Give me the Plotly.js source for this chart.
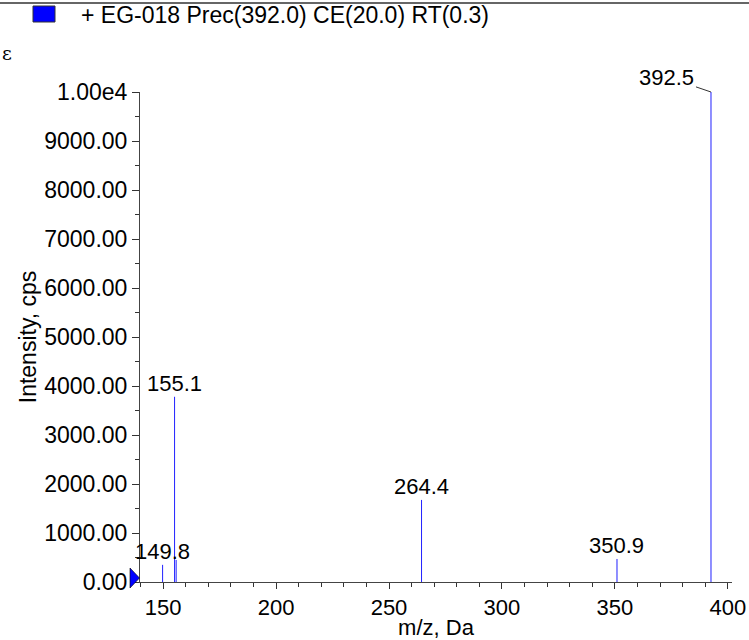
<!DOCTYPE html>
<html>
<head>
<meta charset="utf-8">
<script src="https://cdn.plot.ly/plotly-3.0.1.min.js"></script>
<style>html,body{margin:0;padding:0;background:#fff;}#chart{width:749px;height:640px;}</style>
</head>
<body>
<div id="chart"></div>
<script>
// ---- data ----
const peakMz = [149.8, 155.1, 155.8, 264.4, 350.9, 392.5];
const peakIntensity = [350, 3780, 450, 1675, 470, 10000];
const labelMz = [149.8, 155.1, 264.4, 350.9];
const labelIntensity = [350, 3780, 1675, 470];
const labelText = ["149.8", "155.1", "264.4", "350.9"];
const baseMz = [392.5];
const baseIntensity = [10000];
const baseText = ["392.5"];
const yTickVals = [0, 1000, 2000, 3000, 4000, 5000, 6000, 7000, 8000, 9000, 10000];
const yTickText = ["0.00", "1000.00", "2000.00", "3000.00", "4000.00", "5000.00", "6000.00", "7000.00", "8000.00", "9000.00", "1.00e4"];
const legendText = "+ EG-018 Prec(392.0) CE(20.0) RT(0.3)";
const panelText = "ε";

// ---- layout geometry ----
const W = 749, H = 640;
const M = {l: 140, r: 17, t: 92, b: 58};
const PW = W - M.l - M.r, PH = H - M.t - M.b;
const xRange = [139.8, 401.8];
const yRange = [0, 10000];
const px2x = p => (p - M.l) / PW;            // pixel -> paper x
const py2y = p => (H - M.b - p) / PH;        // pixel -> paper y
const FONT = "Liberation Sans, Arial, sans-serif";

// stick spectrum built from arrays
const sx = [], sy = [];
peakMz.forEach((m, i) => { sx.push(m, m, null); sy.push(0, peakIntensity[i], null); });

const traces = [
  {x: sx, y: sy, type: 'scatter', mode: 'lines', line: {color: '#2020ff', width: 1}, hoverinfo: 'skip', showlegend: false}
];

const annotations = labelMz.map((m, i) => ({
  x: m, y: labelIntensity[i], xref: 'x', yref: 'y', text: labelText[i], showarrow: false,
  yanchor: 'middle', xanchor: 'center', yshift: 13, font: {family: FONT, size: 22, color: '#000'}
}));
baseMz.forEach((m, i) => annotations.push({
  x: m, y: baseIntensity[i], xref: 'x', yref: 'y', text: baseText[i], showarrow: true,
  ax: -44, ay: -15, arrowhead: 0, arrowwidth: 1, arrowcolor: '#333', standoff: 0,
  font: {family: FONT, size: 22, color: '#000'}
}));
annotations.push({
  x: px2x(79), y: py2y(15), xref: 'paper', yref: 'paper', xanchor: 'left', yanchor: 'middle',
  text: legendText, showarrow: false, font: {family: FONT, size: 23, color: '#000'}
});
annotations.push({
  x: px2x(0), y: py2y(53), xref: 'paper', yref: 'paper', xanchor: 'left', yanchor: 'middle',
  text: panelText, showarrow: false, font: {family: 'DejaVu Serif, serif', size: 19, color: '#000'}
});

// precursor marker (triangle at the left end of the baseline), in paper coords
const tri = [[130, 568], [139.5, 578], [130, 588]].map(p => [px2x(p[0]), py2y(p[1])]);
const triPath = 'M ' + tri.map(p => p[0] + ' ' + p[1]).join(' L ') + ' Z';

const shapes = [
  {type: 'line', xref: 'paper', yref: 'paper', x0: px2x(0), x1: px2x(W), y0: py2y(3), y1: py2y(3), line: {color: '#333', width: 1.5}},
  {type: 'rect', xref: 'paper', yref: 'paper', x0: px2x(33), x1: px2x(55), y0: py2y(6), y1: py2y(22), fillcolor: '#0000ff', line: {color: '#333', width: 1}},
  {type: 'path', xref: 'paper', yref: 'paper', path: triPath, fillcolor: '#0000ff', line: {color: '#000', width: 0.6}}
];

const layout = {
  width: W, height: H, margin: M, paper_bgcolor: '#fff', plot_bgcolor: '#fff',
  showlegend: false, font: {family: FONT, color: '#000'},
  xaxis: {
    range: xRange, showgrid: false, zeroline: false, showline: true, linecolor: '#444', linewidth: 1,
    ticks: 'outside', ticklen: 6, tickcolor: '#333', tickmode: 'linear', tick0: 150, dtick: 50,
    tickfont: {family: FONT, size: 22, color: '#000'},
    minor: {tickmode: 'linear', tick0: 150, dtick: 10, ticks: 'outside', ticklen: 4, tickcolor: '#333', showgrid: false},
    title: {text: 'm/z, Da', font: {family: FONT, size: 22, color: '#000'}, standoff: 2}
  },
  yaxis: {
    range: yRange, showgrid: false, zeroline: false, showline: true, linecolor: '#444', linewidth: 1,
    ticks: 'outside', ticklen: 7, tickcolor: '#333', tickmode: 'array', tickvals: yTickVals, ticktext: yTickText,
    tickfont: {family: FONT, size: 23, color: '#000'},
    minor: {tickmode: 'linear', tick0: 0, dtick: 500, ticks: 'outside', ticklen: 4, tickcolor: '#333', showgrid: false},
    title: {text: 'Intensity, cps', font: {family: FONT, size: 23, color: '#000'}, standoff: 1}
  },
  annotations: annotations, shapes: shapes
};

Plotly.newPlot('chart', traces, layout, {displayModeBar: false, staticPlot: true});
</script>
</body>
</html>
